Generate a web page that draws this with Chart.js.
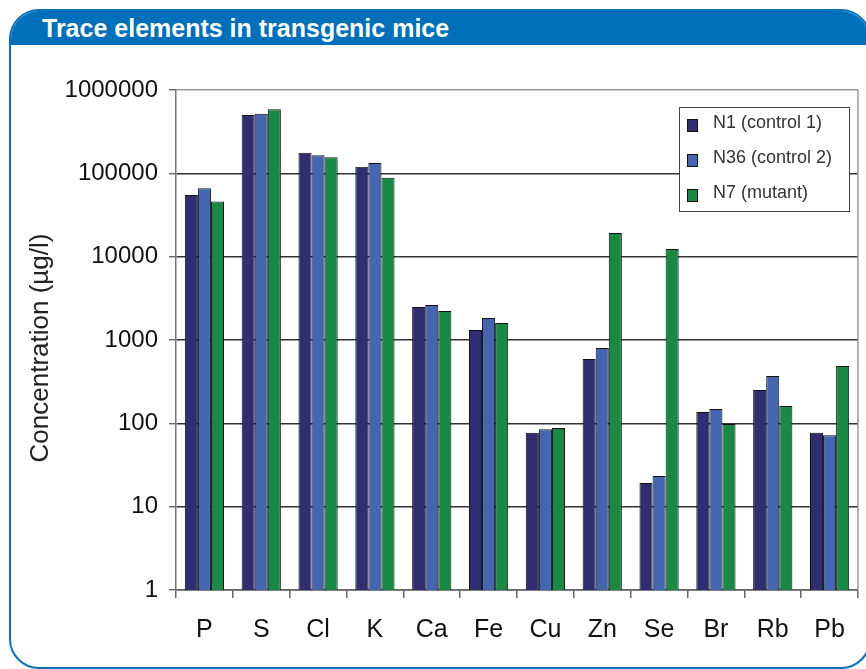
<!DOCTYPE html>
<html>
<head>
<meta charset="utf-8">
<script src="https://cdn.jsdelivr.net/npm/chart.js@4/dist/chart.umd.min.js"></script>
<style>
    html, body { margin: 0; padding: 0; background: #fff; }
    #page { width: 866px; height: 669px; position: relative; overflow: hidden; }
    .frame {
        position: absolute; left: 9px; top: 9px; width: 858px; height: 656px;
        border: 2px solid #0a72bb; border-radius: 30px; overflow: hidden;
    }
    .header {
        height: 34px; background: #0070bb; color: #fff;
        font: bold 25px "Liberation Sans", Arial, sans-serif;
        line-height: 34px; padding-left: 31px;
    }
    #chartCanvas { position: absolute; left: 0; top: 0; }
</style>
</head>
<body>
<div id="page">
<div class="frame"><div class="header">Trace elements in transgenic mice</div></div>
<canvas id="chartCanvas" width="866" height="669"></canvas>
</div>
<script>
const categories = ['P', 'S', 'Cl', 'K', 'Ca', 'Fe', 'Cu', 'Zn', 'Se', 'Br', 'Rb', 'Pb'];
const seriesNames = ['N1 (control 1)', 'N36 (control 2)', 'N7 (mutant)'];
const n1Values = [55000, 501000, 177000, 120000, 2490, 1320, 77, 590, 19.2, 137, 251, 77];
const n36Values = [66000, 520000, 165000, 133000, 2630, 1840, 85, 800, 23.3, 149, 370, 72];
const n7Values = [46000, 587000, 156000, 88700, 2230, 1600, 88, 19200, 12400, 98, 161, 488];
const yTicks = [1, 10, 100, 1000, 10000, 100000, 1000000];
const yTitle = 'Concentration (µg/l)';

const colors = ['#302d70', '#4466b0', '#188a43'];

// y-axis title + legend box + right border of the plot area
const extrasPlugin = {
    id: 'extras',
    afterDraw(chart) {
        const ctx = chart.ctx;
        const area = chart.chartArea;
        ctx.save();

        ctx.strokeStyle = '#999';
        ctx.lineWidth = 1.5;
        ctx.beginPath();
        ctx.moveTo(area.right, area.top);
        ctx.lineTo(area.right, area.bottom);
        ctx.stroke();

        ctx.translate(41, 348);
        ctx.rotate(-Math.PI / 2);
        ctx.fillStyle = '#222';
        ctx.font = '26px "Liberation Sans", Arial, sans-serif';
        ctx.textAlign = 'center';
        ctx.textBaseline = 'middle';
        ctx.fillText(yTitle, 0, 0);
        ctx.restore();

        ctx.save();
        ctx.fillStyle = '#fff';
        ctx.fillRect(679.5, 107.5, 170, 104);
        ctx.strokeStyle = '#444';
        ctx.lineWidth = 1;
        ctx.strokeRect(679.5, 107.5, 170, 104);
        ctx.font = '18px "Liberation Sans", Arial, sans-serif';
        ctx.textBaseline = 'middle';
        chart.data.datasets.forEach((ds, i) => {
            const cy = 123 + i * 35;
            ctx.fillStyle = ds.backgroundColor;
            ctx.fillRect(687.5, cy - 3.5, 10, 12);
            ctx.strokeStyle = '#111';
            ctx.strokeRect(687.5, cy - 3.5, 10, 12);
            ctx.fillStyle = '#333';
            ctx.fillText(ds.label, 713, cy);
        });
        ctx.restore();
    }
};

const ctx = document.getElementById('chartCanvas').getContext('2d');
const chart = new Chart(ctx, {
    type: 'bar',
    data: {
        labels: categories,
        datasets: [n1Values, n36Values, n7Values].map((vals, i) => ({
            label: seriesNames[i],
            data: vals,
            backgroundColor: colors[i],
            borderColor: '#111',
            borderWidth: 1,
            categoryPercentage: 0.69,
            barPercentage: 1.0
        }))
    },
    options: {
        responsive: false,
        animation: false,
        layout: { padding: { left: 0, top: 90, right: 8, bottom: 0 } },
        plugins: {
            legend: { display: false },
            tooltip: { enabled: false }
        },
        scales: {
            x: {
                offset: true,
                grid: {
                    display: true,
                    offset: true,
                    drawOnChartArea: false,
                    drawTicks: true,
                    tickLength: 8,
                    tickColor: '#666',
                    lineWidth: 1.5
                },
                border: { color: '#666', width: 1.5 },
                ticks: {
                    color: '#111',
                    padding: 17,
                    maxRotation: 0,
                    font: { family: '"Liberation Sans", Arial, sans-serif', size: 25 }
                },
                afterFit(scale) { scale.height = 79; }
            },
            y: {
                type: 'logarithmic',
                min: 1,
                max: 1000000,
                afterBuildTicks(scale) {
                    scale.ticks = yTicks.map(v => ({ value: v }));
                },
                afterFit(scale) { scale.width = 176; },
                grid: {
                    color: c => (c.tick && c.tick.value === 1000000) ? '#999' : '#333',
                    lineWidth: 1.4,
                    tickLength: 7,
                    tickColor: '#666'
                },
                border: { color: '#777', width: 1.5 },
                ticks: {
                    color: '#111',
                    padding: 11,
                    font: { family: '"Liberation Sans", Arial, sans-serif', size: 24 },
                    callback: v => String(v)
                }
            }
        }
    },
    plugins: [extrasPlugin]
});
</script>
</body>
</html>
